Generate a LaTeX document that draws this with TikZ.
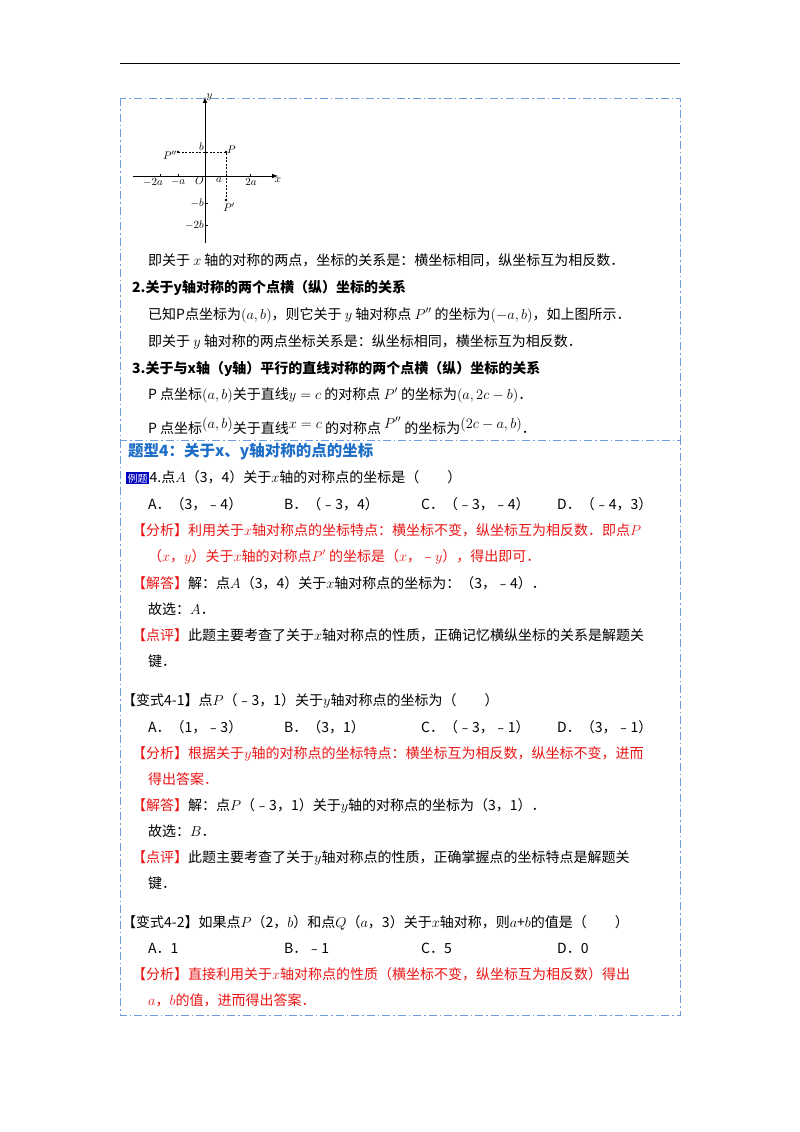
\documentclass[tikz,border=0pt]{standalone}
\usepackage{fontspec}
\setmainfont{Noto Sans CJK SC}
\definecolor{frameblue}{RGB}{110,155,220}
\definecolor{titleblue}{RGB}{30,110,200}
\definecolor{ansred}{RGB}{235,20,20}
\tikzset{
  txt/.style={anchor=base west,inner sep=0pt,font=\fontsize{14}{16}\selectfont},
  bold/.style={txt,font=\fontsize{14}{16}\selectfont\bfseries},
  red/.style={txt,text=ansred},
  frame/.style={draw=frameblue,line width=0.9pt,dash pattern=on 8pt off 3pt on 1.5pt off 3pt},
  gl/.style={inner sep=1pt,font=\fontsize{11}{12}\selectfont\itshape},
  dl/.style={dashed,dash pattern=on 2pt off 1.5pt,line width=0.7pt}
}
\newcommand{\up}[1]{\raisebox{5pt}{#1}}
\begin{document}
\begin{tikzpicture}[x=1pt,y=-1pt]
\useasboundingbox (0,0) rectangle (800,1132);
\draw[line width=0.8pt] (120,63) -- (680,63);
\draw[frame] (120,98) rectangle (680,440);
\draw[frame] (120,440) rectangle (680,1015);
% graph
\draw[line width=1pt,-latex] (205,243) -- (205,97) node[gl,right] (ylab) {$y$};
\draw[line width=1pt,-latex] (133,176) -- (278,176) node[gl,below] (xlab) {$x$};
\foreach \xx in {160,178,226,250} \draw (\xx,176) -- (\xx,173.5);
\foreach \yy in {152,203,225} \draw (205,\yy) -- (207.5,\yy);
\node[gl,below left] (Ol) at (205,176) {$O$};
\node[gl,below] (l1) at (153,177) {$-2a$};
\node[gl,below] (l2) at (178,177) {$-a$};
\node[gl,below] (l3) at (219,177) {$a$};
\node[gl,below] (l4) at (251,177) {$2a$};
\node[gl,above left] (lb) at (205,152) {$b$};
\node[gl,left] (lmb) at (205,203) {$-b$};
\node[gl,left] (lm2b) at (205,225) {$-2b$};
\fill (226,152) circle (1.3pt) (178,152) circle (1.3pt) (226,200) circle (1.3pt);
\draw[dl] (178,152) -- (226,152) -- (226,200);
\node[gl,right] (P) at (226,150) {$P$};
\node[gl,left] (Ppp) at (178,155) {$P''$};
\node[gl,below] (Pp) at (229,202) {$P'$};
% text block 1
\node[txt] (t1) at (148,265) {即关于 $x$ 轴的对称的两点，坐标的关系是：横坐标相同，纵坐标互为相反数．};
\node[bold] (t2) at (132,292) {2.关于y轴对称的两个点横（纵）坐标的关系};
\node[txt] (t3) at (148,319) {已知P点坐标为$(a,b)$，则它关于 $y$ 轴对称点 $P''$ 的坐标为$(-a,b)$，如上图所示．};
\node[txt] (t4) at (148,346) {即关于 $y$ 轴对称的两点坐标关系是：纵坐标相同，横坐标互为相反数．};
\node[bold] (t5) at (132,373) {3.关于与x轴（y轴）平行的直线对称的两个点横（纵）坐标的关系};
\node[txt] (t6) at (148,399) {P 点坐标$(a,b)$关于直线$y=c$ 的对称点 $P'$ 的坐标为$(a,2c-b)$．};
\node[txt] (t7) at (148,433) {P 点坐标\up{$(a,b)$}关于直线\up{$x=c$} 的对称点 \up{$P''$} 的坐标为\up{$(2c-a,b)$}．};
% section 2
\node[txt,font=\fontsize{15.5}{18}\selectfont\bfseries,text=titleblue] (title) at (128,456) {题型4：关于x、y轴对称的点的坐标};
\node[anchor=base west,fill=blue!75!black,text=white,inner sep=1.5pt,font=\fontsize{10}{12}\selectfont] (tag) at (126,482) {例题};
\node[txt] (q1) at (tag.base east) {4.点$A$（3，4）关于$x$轴的对称点的坐标是（\qquad）};
\node[txt] (a1) at (148,509) {A．（3，﹣4）};
\node[txt] (b1) at (284,509) {B．（﹣3，4）};
\node[txt] (c1) at (421,509) {C．（﹣3，﹣4）};
\node[txt] (d1) at (557,509) {D．（﹣4，3）};
\node[red] (r1) at (132,535) {【分析】利用关于$x$轴对称点的坐标特点：横坐标不变，纵坐标互为相反数．即点$P$};
\node[red] (r2) at (148,561) {（$x$，$y$）关于$x$轴的对称点$P'$ 的坐标是（$x$，﹣$y$），得出即可．};
\node[red] (r3) at (132,588) {【解答】\textcolor{black}{解：点$A$（3，4）关于$x$轴对称点的坐标为：（3，﹣4）．}};
\node[txt] (r4) at (148,614) {故选：$A$．};
\node[red] (r5) at (132,640) {【点评】\textcolor{black}{此题主要考查了关于$x$轴对称点的性质，正确记忆横纵坐标的关系是解题关}};
\node[txt] (r6) at (148,666) {键．};
% variant 4-1
\node[txt] (v1) at (122,705) {【变式4-1】点$P$（﹣3，1）关于$y$轴对称点的坐标为（\qquad）};
\node[txt] (a2) at (148,732) {A．（1，﹣3）};
\node[txt] (b2) at (284,732) {B．（3，1）};
\node[txt] (c2) at (421,732) {C．（﹣3，﹣1）};
\node[txt] (d2) at (557,732) {D．（3，﹣1）};
\node[red] (s1) at (132,758) {【分析】根据关于$y$轴的对称点的坐标特点：横坐标互为相反数，纵坐标不变，进而};
\node[red] (s2) at (148,784) {得出答案．};
\node[red] (s3) at (132,810) {【解答】\textcolor{black}{解：点$P$（﹣3，1）关于$y$轴的对称点的坐标为（3，1）．}};
\node[txt] (s4) at (148,836) {故选：$B$．};
\node[red] (s5) at (132,862) {【点评】\textcolor{black}{此题主要考查了关于$y$轴对称点的性质，正确掌握点的坐标特点是解题关}};
\node[txt] (s6) at (148,888) {键．};
% variant 4-2
\node[txt] (w1) at (122,927) {【变式4-2】如果点$P$（2，$b$）和点$Q$（$a$，3）关于$x$轴对称，则$a$+$b$的值是（\qquad）};
\node[txt] (a3) at (148,953) {A．1};
\node[txt] (b3) at (284,953) {B．﹣1};
\node[txt] (c3) at (421,953) {C．5};
\node[txt] (d3) at (557,953) {D．0};
\node[red] (u1) at (132,979) {【分析】直接利用关于$x$轴对称点的性质（横坐标不变，纵坐标互为相反数）得出};
\node[red] (u2) at (148,1005) {$a$，$b$的值，进而得出答案．};
\end{tikzpicture}
\end{document}
